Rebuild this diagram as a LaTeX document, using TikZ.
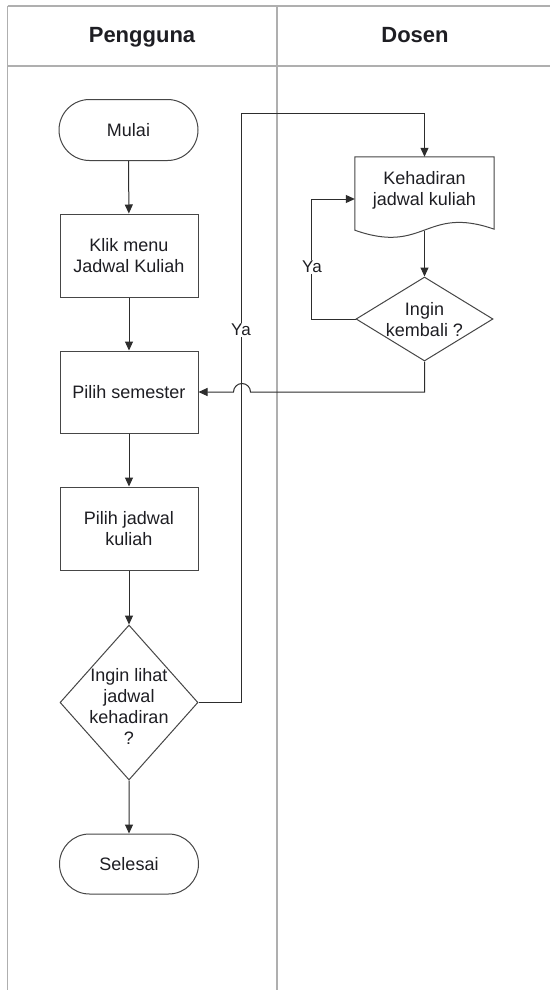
\documentclass[tikz,border=0pt]{standalone}
\usepackage{fontspec}
\setmainfont{Liberation Sans}
\usetikzlibrary{shapes.misc,shapes.geometric,arrows.meta}
\definecolor{poolc}{RGB}{175,175,175}
\definecolor{edgec}{RGB}{70,70,70}
\definecolor{linec}{RGB}{45,45,45}
\definecolor{txtc}{RGB}{30,30,35}
\tikzset{
  pool/.style={draw=poolc,line width=1.6pt},
  lbl/.style={font=\fontsize{18}{21}\selectfont,text=txtc,align=center},
  hdr/.style={font=\fontsize{22}{26}\selectfont\bfseries,text=txtc,anchor=base},
  procbox/.style={draw=edgec,line width=1pt,minimum width=138pt,minimum height=83pt,inner sep=0pt,lbl},
  termbox/.style={rounded rectangle,draw=edgec,line width=1pt,minimum width=139pt,minimum height=61pt,inner sep=0pt,lbl},
  decbox/.style={diamond,draw=edgec,line width=1pt,inner sep=0pt},
  conn/.style={draw=linec,line width=1pt,-{Triangle[length=9pt,width=8pt]}},
  plainconn/.style={draw=linec,line width=1pt},
  yalbl/.style={font=\fontsize{17}{20}\selectfont,text=txtc,fill=white,inner sep=1pt}
}
\begin{document}
\begin{tikzpicture}[x=1pt,y=1pt]
\useasboundingbox (0,0) rectangle (549,-990);
\fill[white] (0,0) rectangle (549,-990);
% swimlanes
\draw[pool] (7.5,-6) -- (560,-6);
\draw[pool] (7.5,-66) -- (560,-66);
\draw[pool] (7.5,-6) -- (7.5,-995);
\draw[pool] (277,-6) -- (277,-995);
\node[hdr] (h1) at (142,-43) {Pengguna};
\node[hdr] (h2) at (415,-43) {Dosen};
% nodes
\node[termbox] (mulai) at (128.5,-130) {Mulai};
\node[procbox] (klik) at (129,-255.5) {Klik menu\\Jadwal Kuliah};
\node[procbox,minimum height=82pt] (ps) at (129,-392) {Pilih semester};
\node[procbox] (pj) at (129,-528.5) {Pilih jadwal\\kuliah};
\node[decbox,minimum width=138pt,minimum height=155pt] (d1) at (129,-702.5) {};
\node[lbl] (d1t) at (129,-706) {Ingin lihat\\jadwal\\kehadiran\\?};
\node[termbox,minimum height=60pt] (selesai) at (129,-864) {Selesai};
% document
\node[minimum width=139pt,minimum height=73pt,inner sep=0pt] (doc) at (424.5,-193.5) {};
\draw[edgec,line width=1pt,fill=white] (doc.south west) -- (doc.north west) -- (doc.north east) -- ([yshift=1pt]doc.south east)
  .. controls (425,-205) and (425,-255) .. (doc.south west) -- cycle;
\node[lbl] (doct) at (424.5,-190) {Kehadiran\\jadwal kuliah};
\node[decbox,minimum width=137pt,minimum height=84pt] (d2) at (424.5,-319) {};
\node[lbl] (d2t) at (424.5,-320) {Ingin\\kembali ?};
% connectors
\draw[conn] (mulai) -- (klik);
\draw[conn] (klik) -- (ps);
\draw[conn] (ps) -- (pj);
\draw[conn] (pj) -- (d1);
\draw[conn] (d1) -- (selesai);
\coordinate (yaTop) at (241,-113);
\draw[conn] (d1.east) -| (yaTop) -| (doc.north);
\node[yalbl] (ya1) at (241,-330) {Ya};
\draw[conn] ([yshift=-1pt]doc.south) -- (d2.north);
\coordinate (loopc) at (311,-199);
\draw[conn] (d2.west) -| (loopc) -- (doc.west |- loopc);
\node[yalbl] (ya2) at (312,-267) {Ya};
\coordinate (hopR) at (250.5,-392);
\draw[conn] (d2.south) |- (hopR) arc[start angle=0,end angle=180,radius=8.5pt] -- (ps.east);
\end{tikzpicture}
\end{document}
